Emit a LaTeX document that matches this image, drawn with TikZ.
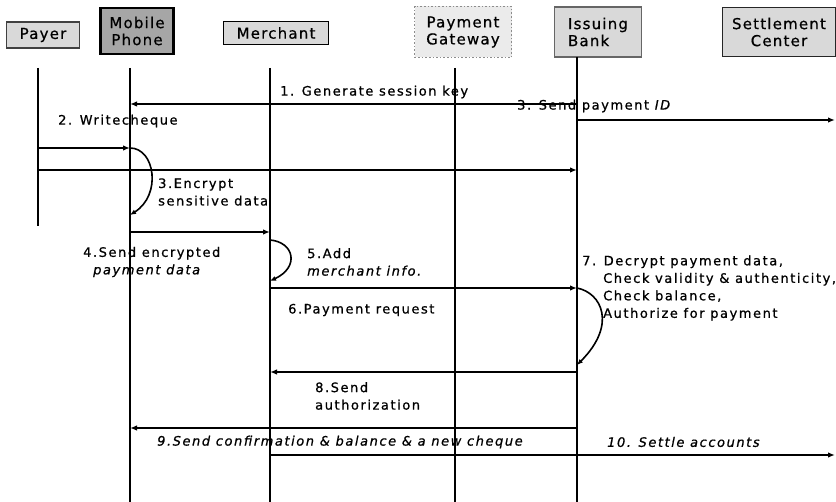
\documentclass[tikz,border=0pt]{standalone}
\usepackage{fontspec}
\setmainfont{DejaVu Sans}
\newfontfamily\seqfont[LetterSpace=12, FakeBold=0.8]{DejaVu Sans}
\newfontfamily\hdrfont[LetterSpace=8, FakeBold=0.6]{DejaVu Sans}
\usetikzlibrary{arrows.meta}
\tikzset{
  hdr/.style = {
    draw=black!75, fill=black!15, line width=1.6pt,
    inner sep=1pt, align=center,
    font=\hdrfont\fontsize{15}{17}\selectfont
  },
  life/.style = {line width=2.8pt, black},
  msg/.style  = {-{Latex[length=7pt,width=5.5pt]}, line width=1.8pt, black},
  selfmsg/.style = {-{Latex[length=6pt,width=5pt]}, line width=1.6pt, black},
  lbl/.style  = {
    anchor=west, inner sep=0pt, align=left,
    font=\seqfont\fontsize{13}{17.5}\selectfont
  }
}

\begin{document}
\begin{tikzpicture}[x=1pt, y=-1pt]
  \useasboundingbox (0,0) rectangle (836,502);

  %% Header boxes
  \node[hdr, minimum width=73pt, minimum height=26pt] (payer) at (43,35) {Payer};
  \node[hdr, fill=black!35, draw=black, line width=2.8pt,
        minimum width=73pt, minimum height=46pt] (phone) at (137,31) {Mobile\\Phone};
  \node[hdr, draw=black, minimum width=105pt, minimum height=23pt] (merchant) at (276,33) {Merchant};
  \node[hdr, fill=black!8, draw=black!45, dotted, line width=0.8pt,
        minimum width=97pt, minimum height=51pt] (gateway) at (463,32) {Payment\\Gateway};
  \node[hdr, draw=black!60, align=left,
        minimum width=87pt, minimum height=50pt] (bank) at (598,32) {Issuing\\Bank};
  \node[hdr, draw=black!85, minimum width=113pt, minimum height=49pt] (center) at (779,32) {Settlement\\Center};

  %% Lifelines
  \coordinate (payer-t)    at ( 38, 68);
  \coordinate (payer-b)    at ( 38,226);
  \coordinate (phone-t)    at (130, 68);
  \coordinate (phone-b)    at (130,502);
  \coordinate (merchant-t) at (270, 68);
  \coordinate (merchant-b) at (270,502);
  \coordinate (gateway-t)  at (455, 68);
  \coordinate (gateway-b)  at (455,502);
  \coordinate (bank-t)     at (577, 57);
  \coordinate (bank-b)     at (577,502);
  \coordinate (edge)       at (835, 57);

  \draw[life] (payer-t) -- (payer-b);
  \draw[life] (phone-t) -- (phone-b);
  \draw[life] (merchant-t) -- (merchant-b);
  \draw[life] (gateway-t) -- (gateway-b);
  \draw[life] (bank-t) -- (bank-b);

  %% Message rows
  \coordinate (r1)  at (0,104);
  \coordinate (r3)  at (0,120);
  \coordinate (r2)  at (0,148);
  \coordinate (r2b) at (0,170);
  \coordinate (e3)  at (0,215);
  \coordinate (r4)  at (0,232);
  \coordinate (s5)  at (0,240);
  \coordinate (e5)  at (0,281);
  \coordinate (r6)  at (0,288);
  \coordinate (e7)  at (0,365);
  \coordinate (r8)  at (0,372);
  \coordinate (r9)  at (0,428);
  \coordinate (r10) at (0,455);

  %% Labels
  \node[lbl] (l1) at (280, 92) {1. Generate session key};
  \node[lbl] (l3) at (517,106) {3. Send payment \textit{ID}};
  \node[lbl] (l2) at ( 58,121) {2. Writecheque};
  \node[lbl] (l3b) at (158,192) {3.Encrypt\\sensitive data};
  \node[lbl] (l4) at ( 83,262) {4.Send encrypted\\\hspace*{10pt}\textit{payment data}};
  \node[lbl] (l5) at (307,262) {5.Add\\\textit{merchant info.}};
  \node[lbl] (l6) at (288,310) {6.Payment request};
  \node[lbl] (l7) at (582,288) {7. Decrypt payment data,\\\hspace*{21pt}Check validity \& authenticity,\\
                                \hspace*{21pt}Check balance,\\\hspace*{21pt}Authorize for payment};
  \node[lbl] (l8) at (315,396) {8.Send\\authorization};
  \node[lbl] (l9) at (157,442) {\itshape 9.Send confirmation \& balance \& a new cheque};
  \node[lbl] (l10) at (607,442) {\itshape 10. Settle accounts};

  %% Messages
  \draw[msg] (bank-t |- r1) -- (phone-t |- r1);
  \draw[msg] (bank-t |- r3) -- (edge |- r3);
  \draw[msg] (payer-t |- r2) -- (phone-t |- r2);
  \draw[msg] (payer-t |- r2b) -- (bank-t |- r2b);
  \draw[msg] (phone-t |- r4) -- (merchant-t |- r4);
  \draw[msg] (merchant-t |- r6) -- (bank-t |- r6);
  \draw[msg] (bank-t |- r8) -- (merchant-t |- r8);
  \draw[msg] (bank-t |- r9) -- (phone-t |- r9);
  \draw[msg] (merchant-t |- r10) -- (edge |- r10);

  %% Self loops
  \draw[selfmsg] (phone-t |- r2) .. controls +(25,0) and +(32,-20) .. (phone-t |- e3);
  \draw[selfmsg] (merchant-t |- s5) .. controls +(24,2) and +(30,-14) .. (merchant-t |- e5);
  \draw[selfmsg] (bank-t |- r6) .. controls +(25,5) and +(40,-40) .. (bank-t |- e7);

\end{tikzpicture}
\end{document}
